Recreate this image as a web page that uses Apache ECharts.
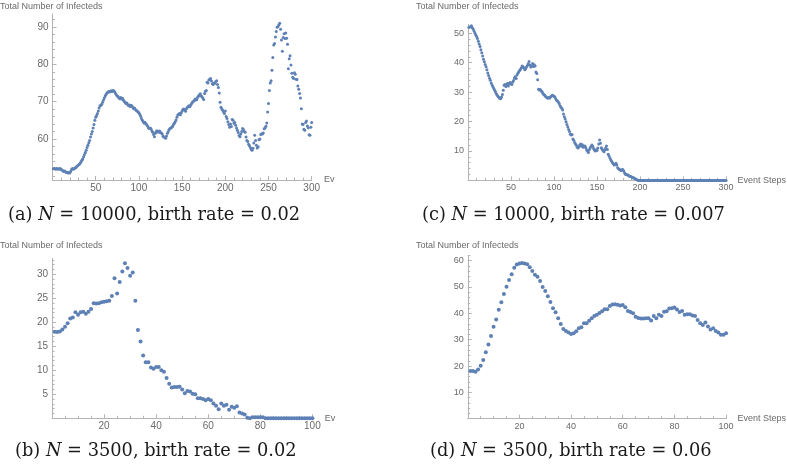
<!DOCTYPE html>
<html>
<head>
<meta charset="utf-8">
<script src="https://cdn.jsdelivr.net/npm/echarts@6/dist/echarts.min.js"></script>
<style>html,body{margin:0;padding:0;background:#fff;}#c{width:787px;height:464px;}</style>
</head>
<body>
<div id="c"></div>
<script>
// ---------- DATA ----------
// (a) N = 10000, birth rate = 0.02  (event steps 1..300)
const infectedA = [
52.0,52.1,52.0,51.9,52.1,52.0,51.9,52.0,52.1,51.8,
51.7,51.5,51.3,51.4,51.2,51.0,51.1,50.9,51.0,50.9,
51.3,51.8,52.1,51.9,52.0,52.2,52.3,52.6,52.8,53.0,
53.2,53.5,53.9,54.3,54.6,55.2,55.8,56.4,57.0,57.7,
58.3,59.0,59.6,60.5,61.3,62.0,62.9,63.9,65.0,65.8,
66.3,66.8,67.5,68.3,68.9,69.0,69.3,69.8,70.4,71.0,
71.5,71.9,72.3,72.5,72.7,72.6,72.8,72.9,72.7,73.0,
72.9,72.6,72.2,71.8,71.5,71.3,71.0,70.8,71.1,70.7,
70.9,70.4,70.1,69.8,69.5,69.6,69.2,68.9,69.1,68.7,
69.0,68.8,68.4,68.1,68.3,67.9,67.6,67.5,67.2,67.0,
66.6,66.1,65.5,65.0,64.6,64.3,64.5,64.1,63.8,63.5,
63.0,62.8,62.9,62.7,62.2,61.8,61.2,60.6,61.5,62.0,
62.2,61.9,61.8,62.1,61.7,61.6,61.3,60.7,60.5,60.4,
60.2,60.8,61.5,62.0,62.5,62.8,62.9,63.1,63.4,63.9,
64.2,64.6,65.1,65.8,66.4,66.6,66.8,66.5,67.0,67.5,
67.9,68.0,67.7,67.4,68.1,68.4,68.7,68.9,68.6,69.1,
69.5,69.8,70.0,70.3,70.7,70.4,70.6,71.2,71.5,71.8,
72.1,71.6,71.3,71.0,70.6,72.2,72.8,73.0,75.2,75.0,
75.8,76.0,76.2,75.5,74.8,74.6,75.0,74.9,75.4,75.6,
74.6,73.8,72.3,69.8,68.5,68.0,67.7,67.2,66.8,67.5,
66.0,65.5,64.6,63.9,63.1,64.0,63.3,65.2,65.0,64.2,
64.4,63.7,62.9,62.3,61.7,60.9,60.6,61.3,62.0,62.8,
62.5,62.0,61.8,60.5,59.6,59.3,58.6,58.2,57.7,57.2,
57.0,57.5,58.9,61.0,59.6,58.3,57.6,57.9,59.8,60.0,
61.2,61.4,61.3,61.6,62.7,62.9,63.4,64.3,67.2,69.5,
73.0,75.0,75.6,78.4,81.8,85.2,85.6,87.3,88.8,89.9,
90.1,90.6,91.0,89.4,86.5,83.5,87.2,88.2,86.9,88.4,
87.0,85.4,78.8,81.5,82.3,79.8,77.6,76.5,76.2,77.7,
77.3,76.0,75.9,74.2,73.3,72.2,71.0,68.1,64.0,63.9,
62.6,62.3,64.4,64.8,63.5,63.0,61.1,61.0,63.1,64.4
];
// (c) N = 10000, birth rate = 0.007  (event steps 1..300)
const infectedC = [
52.0,52.1,52.2,52.5,51.9,51.4,50.8,50.1,49.5,48.9,
48.2,47.3,46.3,45.5,44.4,43.4,42.3,41.2,40.3,39.4,
38.6,37.6,36.5,35.6,34.7,34.0,33.1,32.4,31.8,31.2,
30.6,30.0,29.4,28.9,28.5,28.2,27.9,27.7,28.3,29.2,
30.6,32.3,32.6,31.9,32.4,33.0,32.1,32.9,33.3,32.8,
32.6,33.4,33.9,34.8,35.2,34.6,35.8,36.4,36.9,37.3,
37.8,38.3,38.9,38.6,38.2,37.6,37.9,38.5,39.0,39.6,
40.4,39.2,38.5,38.9,39.7,38.7,39.3,38.9,36.8,36.3,
34.2,31.0,30.7,30.9,30.4,30.2,29.6,29.2,29.0,28.6,
28.3,28.1,27.9,28.2,28.0,28.4,28.7,28.9,28.8,28.6,
28.3,27.7,27.2,27.0,26.6,26.1,25.4,24.9,24.5,23.9,
22.6,21.6,20.9,19.9,19.0,18.1,17.3,16.6,15.7,15.4,
15.6,14.1,13.6,12.9,12.4,11.9,11.3,11.0,11.5,12.0,
12.4,11.6,12.1,11.3,11.6,11.7,11.1,10.3,9.9,9.5,
10.4,11.0,11.5,12.0,11.6,10.8,10.3,10.0,10.4,10.2,
11.0,12.4,13.7,12.6,11.1,10.6,10.2,9.7,10.3,11.0,
11.7,10.5,8.9,8.3,7.6,7.0,6.5,6.0,5.6,5.2,
5.5,5.8,5.2,4.3,4.0,3.7,3.5,3.4,3.6,3.7,
3.2,2.6,2.1,2.0,1.9,1.8,1.6,1.4,1.3,1.2,
1.0,0.9,0.8,0.6,0.5,0.3,0.1,0,0,0,
0,0,0,0,0,0,0,0,0,0,
0,0,0,0,0,0,0,0,0,0,
0,0,0,0,0,0,0,0,0,0,
0,0,0,0,0,0,0,0,0,0,
0,0,0,0,0,0,0,0,0,0,
0,0,0,0,0,0,0,0,0,0,
0,0,0,0,0,0,0,0,0,0,
0,0,0,0,0,0,0,0,0,0,
0,0,0,0,0,0,0,0,0,0,
0,0,0,0,0,0,0,0,0,0
];
// (b) N = 3500, birth rate = 0.02  (event steps 1..100)
const infectedB = [
18.06,18.0,18.1,18.5,19.1,19.8,20.8,21.0,22.1,21.6,
22.1,22.2,21.8,22.2,22.8,24.0,23.9,24.0,24.2,24.3,
24.4,24.5,25.5,29.2,26.0,28.4,30.6,32.3,31.3,29.7,
30.4,24.5,18.4,16.0,13.1,11.7,11.7,10.6,10.3,10.7,
10.7,10.0,9.7,8.4,7.2,6.4,6.5,6.5,6.6,6.0,
5.2,5.7,5.6,5.1,5.0,4.2,4.2,4.0,3.75,4.0,
3.75,3.1,2.6,1.9,3.1,2.6,2.8,1.8,2.4,2.2,
2.5,1.2,1.0,0.8,0.1,0,0.2,0.2,0.2,0.2,
0.2,0,0,0,0,0,0,0,0,0,
0,0,0,0,0,0,0,0,0,0
];
// (d) N = 3500, birth rate = 0.06  (event steps 1..100)
const infectedD = [
18.1,18.1,17.8,18.7,20.1,22.3,25.2,28.2,31.4,34.9,
37.7,41.4,44.2,47.3,50.1,52.7,54.8,57.3,58.5,58.9,
59.1,58.9,58.6,57.5,56.1,54.7,53.9,52.3,50.0,48.5,
46.5,44.3,41.9,40.4,38.1,36.0,34.1,33.3,32.7,32.2,
32.4,33.2,34.3,34.7,36.2,36.2,37.2,38.1,39.0,39.5,
40.1,40.8,41.6,41.6,42.8,43.4,43.5,43.3,43.0,43.2,
42.3,40.9,40.5,40.0,38.7,38.2,38.0,38.0,38.1,38.1,
37.3,39.0,38.1,39.5,39.0,40.6,40.8,41.8,41.9,42.2,
41.5,40.5,40.9,39.5,39.7,39.7,39.2,39.0,37.5,36.2,
35.6,36.5,35.0,33.9,34.3,33.3,32.7,31.9,31.9,32.4
];

// Tick values
const ticksX300 = [50, 100, 150, 200, 250, 300];
const minorX300 = [10,20,30,40,60,70,80,90,110,120,130,140,160,170,180,190,210,220,230,240,260,270,280,290];
const ticksX100 = [20, 40, 60, 80, 100];
const minorX100 = [5,10,15,25,30,35,45,50,55,65,70,75,85,90,95];
const ticksYA = [60, 70, 80, 90];
const minorYA = [50,52,54,56,58,62,64,66,68,72,74,76,78,82,84,86,88,92];
const ticksYC = [10, 20, 30, 40, 50];
const minorYC = [2,4,6,8,12,14,16,18,22,24,26,28,32,34,36,38,42,44,46,48,52];
const ticksYB = [5, 10, 15, 20, 25, 30];
const minorYB = [1,2,3,4,6,7,8,9,11,12,13,14,16,17,18,19,21,22,23,24,26,27,28,29,31,32,33];
const ticksYD = [10, 20, 30, 40, 50, 60];
const minorYD = [2,4,6,8,12,14,16,18,22,24,26,28,32,34,36,38,42,44,46,48,52,54,56,58,62];

const yTitle = 'Total Number of Infecteds';
const xTitle = 'Event Steps';
const captions = [
  '(a) {i|N} = 10000, birth rate = 0.02',
  '(b) {i|N} = 3500, birth rate = 0.02',
  '(c) {i|N} = 10000, birth rate = 0.007',
  '(d) {i|N} = 3500, birth rate = 0.06'
];

// ---------- STYLE ----------
const PT = '#5E81B5';
const AX = '#b4b4b4';
const LBL = '#6a6a6a';
const SANS = 'Liberation Sans';

const panels = [
  {data: infectedA, grid:{left:52.5, top:13.9, width:259.2, height:166.1}, xmax:300, ymin:49, ymax:93.5,
   tx:ticksX300, mx:minorX300, ty:ticksYA, my:minorYA, fs:10, sym:3, clipName:true},
  {data: infectedC, grid:{left:468, top:24.4, width:259.3, height:156}, xmax:300, ymin:0, ymax:53,
   tx:ticksX300, mx:minorX300, ty:ticksYC, my:minorYC, fs:9, sym:3, clipName:false},
  {data: infectedB, grid:{left:52, top:258.5, width:260.4, height:159.8}, xmax:100, ymin:0, ymax:33.3,
   tx:ticksX100, mx:minorX100, ty:ticksYB, my:minorYB, fs:10, sym:4, clipName:true},
  {data: infectedD, grid:{left:467.75, top:255.4, width:259.6, height:163.3}, xmax:100, ymin:0, ymax:62,
   tx:ticksX100, mx:minorX100, ty:ticksYD, my:minorYD, fs:9, sym:4, clipName:false}
];

const grid = [], xAxis = [], yAxis = [], series = [];
panels.forEach((p, i) => {
  grid.push(Object.assign({containLabel:false}, p.grid));
  const nameStyle = {fontSize: 9, color: LBL, fontFamily: SANS};
  const mainX = {
    type:'value', gridIndex:i, min:0, max:p.xmax, position:'bottom',
    name: xTitle, nameLocation:'end', nameGap:10, nameTextStyle:nameStyle,
    axisLine:{show:true, onZero:false, lineStyle:{color:AX, width:1}},
    axisTick:{show:true, inside:true, length:4, customValues:p.tx, lineStyle:{color:AX}},
    axisLabel:{show:true, customValues:p.tx, margin:3, fontSize:p.fs, color:LBL, fontFamily:SANS},
    splitLine:{show:false}
  };
  if (p.clipName) { mainX.nameTruncate = {maxWidth: 12.5, ellipsis: ''}; }
  xAxis.push(mainX);
  // minor x ticks
  xAxis.push({
    type:'value', gridIndex:i, min:0, max:p.xmax, position:'bottom',
    axisLine:{show:false, onZero:false},
    axisTick:{show:true, inside:true, length:2.5, customValues:p.mx, lineStyle:{color:AX}},
    axisLabel:{show:false}, splitLine:{show:false}
  });
  yAxis.push({
    type:'value', gridIndex:i, min:p.ymin, max:p.ymax, position:'left',
    axisLine:{show:true, onZero:false, lineStyle:{color:AX, width:1}},
    axisTick:{show:true, inside:true, length:4, customValues:p.ty, lineStyle:{color:AX}},
    axisLabel:{show:true, customValues:p.ty, margin:4, fontSize:p.fs, color:LBL, fontFamily:SANS},
    splitLine:{show:false}
  });
  yAxis.push({
    type:'value', gridIndex:i, min:p.ymin, max:p.ymax, position:'left',
    axisLine:{show:false, onZero:false},
    axisTick:{show:true, inside:true, length:2.5, customValues:p.my, lineStyle:{color:AX}},
    axisLabel:{show:false}, splitLine:{show:false}
  });
  series.push({
    type:'scatter', xAxisIndex:2*i, yAxisIndex:2*i,
    symbol:'circle', symbolSize:p.sym, itemStyle:{color:PT, opacity:1},
    silent:true, animation:false,
    data: p.data.map((v, k) => [k + 1, v])
  });
});

const titlePos = [[0, 2.5], [416, 2.5], [0, 241], [416, 241]];
const graphic = [];
titlePos.forEach(pos => {
  graphic.push({type:'text', left:pos[0], top:pos[1], style:{text:yTitle, fontSize:9, fill:LBL, fontFamily:SANS}});
});
const capPos = [[8, 215.5], [15, 451.5], [422, 215.5], [430, 451.5]];
capPos.forEach((pos, k) => {
  graphic.push({type:'text', x:pos[0], y:pos[1], style:{
    text: captions[k], fontSize:17.8, fill:'#1a1a1a', fontFamily:'DejaVu Serif',
    verticalAlign:'middle', align:'left',
    rich:{i:{fontStyle:'italic', fontSize:17.8, fontFamily:'DejaVu Serif', fill:'#1a1a1a'}}
  }});
});

const chart = echarts.init(document.getElementById('c'), null, {renderer:'canvas'});
chart.setOption({
  animation:false,
  backgroundColor:'#fff',
  grid, xAxis, yAxis, series, graphic
});
</script>
</body>
</html>
